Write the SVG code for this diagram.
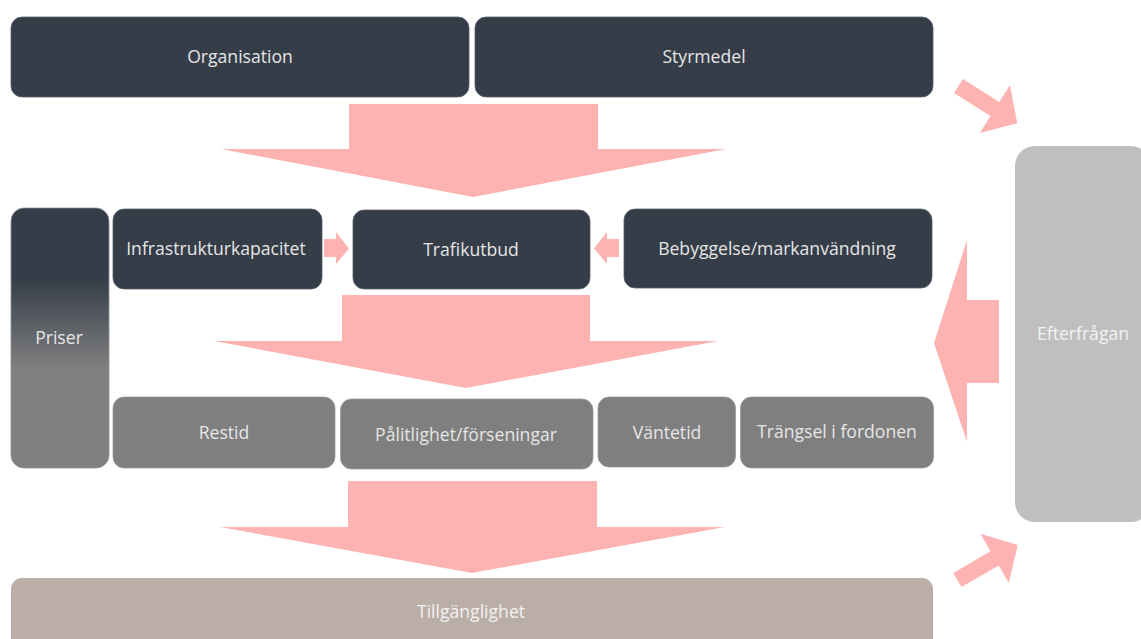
<svg xmlns="http://www.w3.org/2000/svg" width="1141" height="639" viewBox="0 0 1141 639">
  <style>
    .dark { fill: #353d48; stroke: #5a616b; stroke-width: 0.8; }
    .gray { fill: #7f7f7f; stroke: #9a9a9a; stroke-width: 0.8; }
    .lbl { font-family: "Open Sans", "Noto Sans", sans-serif; font-size: 17.6px; fill: #e6e6e6; text-anchor: middle; dominant-baseline: central; }
    .arr { fill: #fdb3b1; }
  </style>
  <defs>
    <linearGradient id="priserGrad" x1="0" y1="0" x2="0" y2="1">
      <stop offset="0" stop-color="#353d48"/>
      <stop offset="0.27" stop-color="#353d48"/>
      <stop offset="0.62" stop-color="#808080"/>
      <stop offset="1" stop-color="#808080"/>
    </linearGradient>
  </defs>
  <rect width="1141" height="639" fill="#ffffff"/>

  <g id="connectors">
    <polygon class="arr" points="349,104 598,104 598,149 726,149 473,197 221,149 349,149"/>
    <polygon class="arr" points="342,295 590,295 590,341 718,341 466,388 214,341 342,341"/>
    <polygon class="arr" points="348,481 597,481 597,527 725,527 472,573 220,527 348,527"/>
    <polygon class="arr" points="324,239 336,239 336,232 349,248.5 336,264 336,257 324,257"/>
    <polygon class="arr" points="619,239 607,239 607,232 594,248.5 607,264 607,257 619,257"/>
    <polygon class="arr" points="999,300 999,383 967,383 967,442 934,343 967,240 967,300"/>
    <polygon class="arr" transform="translate(958.5,86) rotate(32.3)" points="0,-8.3 43,-8.3 43,-28.3 69.5,0 43,28.3 43,8.3 0,8.3"/>
    <polygon class="arr" transform="translate(957.4,580) rotate(-30.1)" points="0,-8.2 43,-8.2 43,-28.4 69.7,0 43,28.4 43,8.2 0,8.2"/>
  </g>

  <g id="node-organisation">
    <rect class="dark" x="11" y="17" width="458" height="80" rx="11"/>
    <text class="lbl" x="240" y="56">Organisation</text>
  </g>
  <g id="node-styrmedel">
    <rect class="dark" x="475" y="17" width="458" height="80" rx="11"/>
    <text class="lbl" x="704" y="56">Styrmedel</text>
  </g>
  <g id="node-priser">
    <rect x="11" y="208" width="98" height="260" rx="13" fill="url(#priserGrad)" stroke="#8a8f96" stroke-width="0.8"/>
    <text class="lbl" x="59" y="337">Priser</text>
  </g>
  <g id="node-infrastrukturkapacitet">
    <rect class="dark" x="113" y="209" width="209" height="80" rx="11"/>
    <text class="lbl" x="216" y="248">Infrastrukturkapacitet</text>
  </g>
  <g id="node-trafikutbud">
    <rect class="dark" x="353" y="210" width="237" height="79" rx="11"/>
    <text class="lbl" x="471" y="249">Trafikutbud</text>
  </g>
  <g id="node-bebyggelse">
    <rect class="dark" x="624" y="209" width="308" height="79" rx="11"/>
    <text class="lbl" x="777" y="248">Bebyggelse/markanvändning</text>
  </g>
  <g id="node-restid">
    <rect class="gray" x="113" y="397" width="222" height="71" rx="11"/>
    <text class="lbl" x="224" y="432">Restid</text>
  </g>
  <g id="node-palitlighet">
    <rect class="gray" x="340.5" y="399" width="252.5" height="70" rx="11"/>
    <text class="lbl" x="466" y="434">Pålitlighet/förseningar</text>
  </g>
  <g id="node-vantetid">
    <rect class="gray" x="598" y="397" width="137.5" height="70" rx="11"/>
    <text class="lbl" x="667" y="432">Väntetid</text>
  </g>
  <g id="node-trangsel">
    <rect class="gray" x="740.5" y="397" width="193" height="71" rx="11"/>
    <text class="lbl" x="837" y="431">Trängsel i fordonen</text>
  </g>
  <g id="node-tillganglighet">
    <rect x="11" y="578" width="922" height="75" rx="11" fill="#bbaea7"/>
    <text class="lbl" x="471" y="611" style="fill:#f2f2f2">Tillgänglighet</text>
  </g>
  <g id="node-efterfragan">
    <rect x="1015" y="146" width="136" height="376" rx="20" fill="#bfbfbf"/>
    <text class="lbl" x="1083" y="333" style="fill:#f2f2f2">Efterfrågan</text>
  </g>
</svg>
